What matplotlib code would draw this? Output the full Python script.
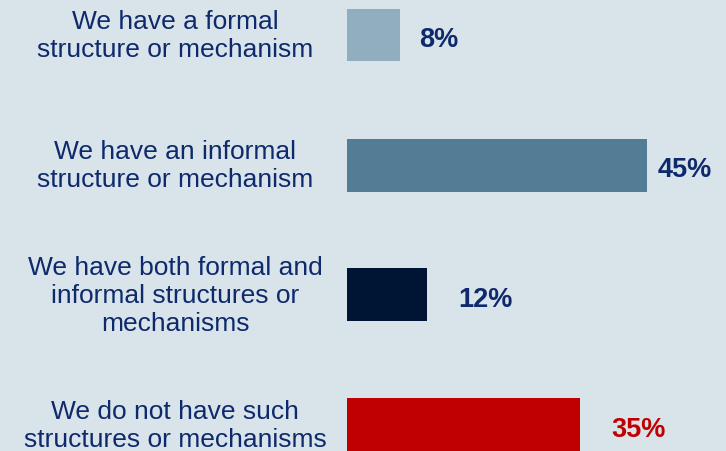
import matplotlib.pyplot as plt
from matplotlib.transforms import blended_transform_factory

categories = [
    "We have a formal\nstructure or mechanism",
    "We have an informal\nstructure or mechanism",
    "We have both formal and\ninformal structures or\nmechanisms",
    "We do not have such\nstructures or mechanisms",
]
values = [8, 45, 12, 35]
value_labels = ["8%", "45%", "12%", "35%"]

bar_colors = ["#91AEC0", "#527D94", "#001433", "#C00000"]
label_colors = ["#0E2A6C", "#0E2A6C", "#0E2A6C", "#C00000"]
label_offsets = [38, 38, 58, 58]  # pixels from bar end to label centre
text_color = "#0E2A6C"
bg = "#D9E3EA"

plt.rcParams["font.family"] = ["Liberation Sans", "DejaVu Sans"]

W, H, DPI = 726, 452, 100
fig = plt.figure(figsize=(W / DPI, H / DPI), dpi=DPI, facecolor=bg)

left_px = 347
px_per_unit = 6.67
ax = fig.add_axes([left_px / W, 0, 1 - left_px / W, 1])
ax.set_facecolor(bg)
ax.set_xlim(0, (W - left_px) / px_per_unit)

spacing = 130
bar_h = 53 / spacing
ax.set_ylim(3 + (H - 426) / spacing, -36 / spacing)

ypos = list(range(len(values)))
ax.barh(ypos, values, height=bar_h, color=bar_colors, linewidth=0)

for y, v, lab, c, off in zip(ypos, values, value_labels, label_colors, label_offsets):
    ax.annotate(lab, (v, y), xytext=(off * 72 / DPI, -4 * 72 / DPI),
                textcoords="offset points", ha="center", va="center",
                fontsize=19.5, fontweight="bold", color=c)

trans = blended_transform_factory(fig.transFigure, ax.transData)
for y, cat in zip(ypos, categories):
    ax.text(175 / W, y, cat, transform=trans, ha="center", va="center",
            multialignment="center", fontsize=19, color=text_color,
            linespacing=1.22, clip_on=False)

ax.axis("off")
fig.savefig("out.png", dpi=DPI, facecolor=bg)
